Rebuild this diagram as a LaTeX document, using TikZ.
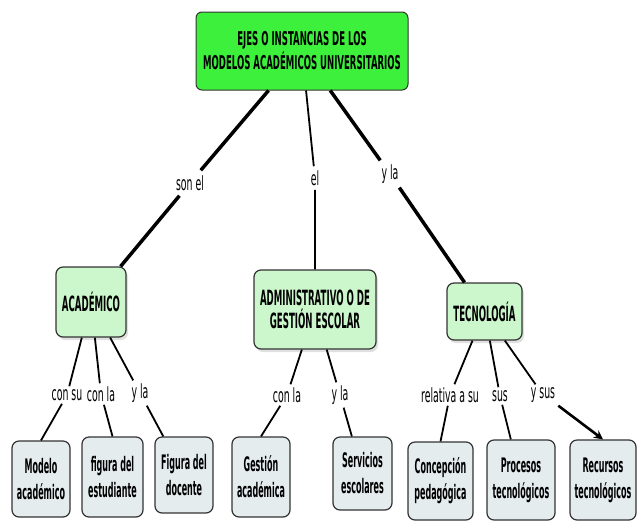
\documentclass[tikz,border=0pt]{standalone}
\usepackage{fontspec}
\usetikzlibrary{shadows,arrows.meta}
\newfontfamily\rootfont[FakeStretch=0.45]{DejaVu Sans}
\newfontfamily\midfont[FakeStretch=0.41]{DejaVu Sans}
\newfontfamily\leaffont[FakeStretch=0.40]{DejaVu Sans}
\newfontfamily\lblfont[FakeStretch=0.48]{DejaVu Sans}
\definecolor{rootgreen}{HTML}{3CF03C}
\definecolor{midgreen}{HTML}{CCF7CC}
\definecolor{leafgrey}{HTML}{E4ECEE}
\definecolor{edgegrey}{HTML}{333333}
\begin{document}
\begin{tikzpicture}[x=1pt,y=-1pt,
  rootbox/.style={draw=edgegrey, line width=1pt, fill=rootgreen, rounded corners=6pt, align=center,
    font=\rootfont\bfseries\fontsize{19}{24}\selectfont, inner sep=0pt},
  midbox/.style={draw=edgegrey, line width=1.2pt, fill=midgreen, rounded corners=7pt, align=center,
    font=\midfont\bfseries\fontsize{21}{23}\selectfont, inner sep=0pt,
    drop shadow={shadow xshift=2pt, shadow yshift=-3pt, fill=black!20, opacity=0.6}},
  leafbox/.style={draw=edgegrey, line width=1.2pt, fill=leafgrey, rounded corners=7pt, align=center,
    font=\leaffont\bfseries\fontsize{20}{26}\selectfont, inner sep=0pt},
  lbl/.style={font=\lblfont\fontsize{19.5}{20}\selectfont, inner sep=3pt},
  thickline/.style={line width=3.5pt},
  thinline/.style={line width=1.8pt},
]
\useasboundingbox (0,0) rectangle (637,523);

% root
\node[rootbox, minimum width=212, minimum height=78] (root) at (302,51)
  {EJES O INSTANCIAS DE LOS\\MODELOS ACADÉMICOS UNIVERSITARIOS};

% middle level
\node[midbox, minimum width=70, minimum height=70] (acad) at (91,302) {ACADÉMICO};
\node[midbox, minimum width=122, minimum height=79] (admin) at (315,309.5) {ADMINISTRATIVO O DE\\GESTIÓN ESCOLAR};
\node[midbox, minimum width=75, minimum height=57] (tec) at (484.5,311.5) {TECNOLOGÍA};

% leaves
\node[leafbox, minimum width=58, minimum height=76] (modelo) at (41,479) {Modelo\\académico};
\node[leafbox, minimum width=61, minimum height=80] (fig) at (112.5,477) {figura del\\estudiante};
\node[leafbox, minimum width=58, minimum height=76] (doc) at (184,475) {Figura del\\docente};
\node[leafbox, minimum width=58, minimum height=80] (gest) at (261,477) {Gestión\\académica};
\node[leafbox, minimum width=59, minimum height=73] (serv) at (362.5,473.5) {Servicios\\escolares};
\node[leafbox, minimum width=65, minimum height=78] (conc) at (440.5,481) {Concepción\\pedagógica};
\node[leafbox, minimum width=68, minimum height=80] (proc) at (521,480) {Procesos\\tecnológicos};
\node[leafbox, minimum width=66, minimum height=80] (rec) at (603,480) {Recursos\\tecnológicos};

% labels
\node[lbl, inner sep=5pt] (lson) at (190,183) {son el};
\node[lbl, inner sep=4pt] (lel) at (315,178) {el};
\node[lbl, inner sep=4pt] (lyla) at (390,174) {y la};
\node[lbl] (lconsu) at (67,395) {con su};
\node[lbl] (lconla) at (101,394) {con la};
\node[lbl] (lyla2) at (140,393) {y la};
\node[lbl] (lconla2) at (287,395) {con la};
\node[lbl] (lyla3) at (340,395) {y la};
\node[lbl] (lrel) at (450,395) {relativa a su};
\node[lbl] (lsus) at (500,396) {sus};
\node[lbl] (lysus) at (543,395) {y sus};

% connectors from root
\draw[thickline] (root) -- (lson) -- (acad);
\draw[thinline] (root) -- (lel) -- (admin);
\draw[thickline] (root) -- (lyla) -- (tec);

% académico
\draw[thinline] (acad) -- (lconsu);
\draw[thinline] (lconsu) -- (modelo.north);
\draw[thinline] (acad) -- (lconla);
\draw[thinline] (lconla) -- (fig.north);
\draw[thinline] (acad) -- (lyla2) -- (doc);

% administrativo
\draw[thinline] (admin) -- (lconla2);
\draw[thinline] (lconla2) -- (gest.north);
\draw[thinline] (admin) -- (lyla3) -- (serv);

% tecnologia
\draw[thinline] (tec) -- (lrel);
\draw[thinline] (lrel) -- (conc.north);
\draw[thinline] (tec) -- (lsus) -- (proc);
\draw[thinline] (tec) -- (lysus);
\draw[line width=2.6pt, -{Stealth[length=9pt,width=9pt]}] (lysus.south east) -- (rec.north);
\end{tikzpicture}
\end{document}
